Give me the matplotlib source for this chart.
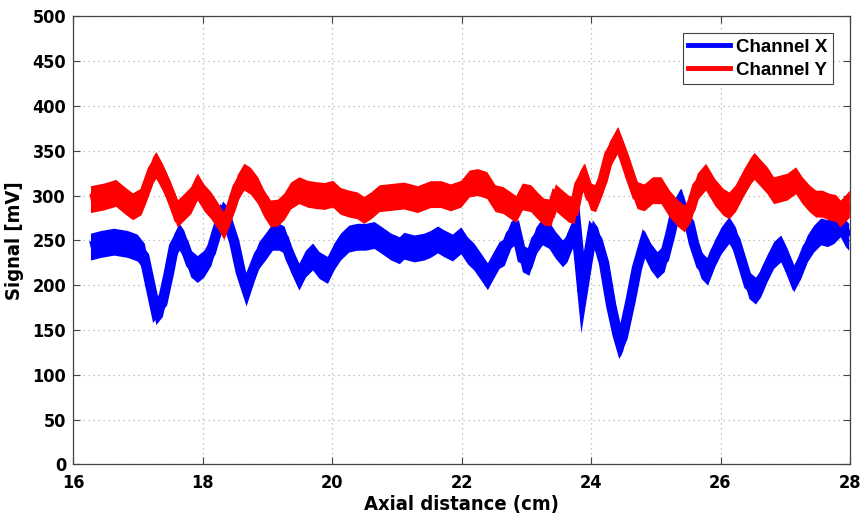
import matplotlib
matplotlib.use("Agg")
import matplotlib.pyplot as plt
from matplotlib.lines import Line2D
from matplotlib import font_manager
import numpy as np

# ---- data ----
pos_x = [16.27, 16.43, 16.63, 16.84, 16.99, 17.10, 17.20, 17.28, 17.38, 17.48,
         17.56, 17.64, 17.71, 17.82, 17.92, 18.02, 18.13, 18.23, 18.31, 18.38,
         18.49, 18.59, 18.68, 18.77, 18.87, 18.97, 19.08, 19.18, 19.26, 19.36,
         19.49, 19.59, 19.70, 19.80, 19.93, 20.03, 20.13, 20.26, 20.39, 20.52,
         20.65, 20.78, 20.91, 21.04, 21.11, 21.27, 21.42, 21.52, 21.63, 21.73,
         21.86, 21.99, 22.09, 22.19, 22.30, 22.40, 22.48, 22.58, 22.66, 22.76,
         22.84, 22.94, 23.04, 23.15, 23.25, 23.35, 23.45, 23.56, 23.63, 23.71,
         23.77, 23.87, 23.94, 24.02, 24.10, 24.20, 24.31, 24.41, 24.45, 24.49,
         24.61, 24.71, 24.82, 24.92, 25.02, 25.13, 25.23, 25.31, 25.38, 25.46,
         25.52, 25.59, 25.70, 25.80, 25.91, 26.01, 26.13, 26.23, 26.34, 26.44,
         26.54, 26.62, 26.72, 26.82, 26.93, 27.03, 27.13, 27.24, 27.34, 27.44,
         27.55, 27.65, 27.75, 27.85, 27.93, 27.98]
channel_x = [243, 246, 248.5, 246, 242, 232, 198, 171, 180, 213,
             243, 254, 246.5, 224, 218, 224, 237, 261.5, 279, 273,
             248.5, 215, 195, 215, 233.5, 243, 254, 254, 251, 230,
             209.5, 224, 232, 222.5, 217, 232, 243, 252, 254, 254,
             256, 249.6, 243, 239, 244, 241, 243, 246, 251, 246.7,
             242, 250, 239, 232, 220.6, 210, 220.6, 233.6, 237, 256,
             261.5, 230, 226, 250, 260, 256, 245, 235.5, 241, 256,
             266, 192, 224, 258, 250, 225, 178, 145, 135, 142,
             182, 219, 246.7, 232, 222.5, 230, 258, 284, 293, 275,
             269, 246.7, 222.5, 215, 235.5, 250, 261.5, 250, 224, 200,
             194, 202, 219, 233.6, 241, 226, 207.6, 222.5, 241, 252,
             260, 258, 261.5, 269, 258, 254]

pos_y = [16.27, 16.48, 16.66, 16.81, 16.92, 17.05, 17.12, 17.23, 17.28, 17.38,
         17.51, 17.61, 17.71, 17.82, 17.92, 18.02, 18.13, 18.23, 18.33, 18.44,
         18.54, 18.64, 18.74, 18.85, 18.95, 19.05, 19.16, 19.26, 19.36, 19.49,
         19.62, 19.75, 19.88, 20.01, 20.13, 20.26, 20.39, 20.49, 20.60, 20.73,
         20.86, 20.98, 21.11, 21.32, 21.52, 21.68, 21.83, 21.99, 22.12, 22.25,
         22.39, 22.52, 22.64, 22.76, 22.84, 22.94, 23.07, 23.17, 23.27, 23.38,
         23.45, 23.56, 23.66, 23.74, 23.82, 23.89, 23.99, 24.07, 24.18, 24.28,
         24.41, 24.51, 24.61, 24.71, 24.82, 24.95, 25.08, 25.21, 25.33, 25.44,
         25.54, 25.64, 25.77, 25.91, 26.04, 26.13, 26.23, 26.36, 26.47, 26.52,
         26.62, 26.72, 26.82, 26.93, 27.03, 27.16, 27.26, 27.37, 27.47, 27.57,
         27.68, 27.78, 27.85, 27.93, 27.99]
channel_y = [296, 299, 303, 294, 288, 293.5, 306, 328.5, 334, 321,
             300, 280, 287, 295, 310, 298, 289, 278, 266, 286,
             309, 321, 316.5, 306, 291, 280, 281, 288, 300, 306,
             302, 300.5, 299.5, 302, 294, 291, 289, 284, 289, 297,
             298, 299, 300, 296, 301.6, 301.6, 298, 302, 313.5, 315,
             311.7, 297, 295, 289, 285, 299, 297, 289, 282, 281,
             298, 291, 285, 284, 311.7, 321, 299, 297, 317, 345,
             362, 343, 321, 300.5, 298, 306, 306, 291, 281, 274.5,
             286, 310, 321, 304, 293, 289, 297, 315, 328.5, 333,
             325, 317, 306, 308, 310, 317, 306, 297, 291, 291,
             287.5, 286, 280, 286, 291]

x_ticks = [16, 18, 20, 22, 24, 26, 28]
y_ticks = [0, 50, 100, 150, 200, 250, 300, 350, 400, 450, 500]
series_names = ["Channel X", "Channel Y"]

# ---- style ----
BAND = 15          # half-thickness of the noisy band (mV)
LW = 7.5
C_X = "#0000ff"
C_Y = "#ff0000"

names = {f.name for f in font_manager.fontManager.ttflist}
if "Liberation Sans Narrow" in names:
    narrow_kw = dict(family=["Liberation Sans Narrow", "DejaVu Sans"])
elif "DejaVu Sans Condensed" in names:
    narrow_kw = dict(family=["DejaVu Sans Condensed", "DejaVu Sans"])
else:
    narrow_kw = dict(family=["DejaVu Sans"], fontstretch="condensed")
wide = ["Liberation Sans", "DejaVu Sans"]

fig = plt.figure(figsize=(8.63, 5.19), dpi=100)
ax = fig.add_axes([73 / 863, 1 - 464.4 / 519, (850 - 73) / 863, (464.4 - 16.3) / 519])

for xs, ys, c in [(pos_x, channel_x, C_X), (pos_y, channel_y, C_Y)]:
    xs = np.asarray(xs)
    ys = np.asarray(ys, dtype=float)
    ax.fill_between(xs, ys - BAND, ys + BAND, color=c, lw=0, zorder=3)
    ax.plot(xs, ys, color=c, lw=LW, solid_joinstyle="miter",
            solid_capstyle="butt", zorder=3)

ax.set_xlim(16, 28)
ax.set_ylim(0, 500)
ax.set_xticks(x_ticks)
ax.set_yticks(y_ticks)
ax.set_xticklabels([str(t) for t in x_ticks], fontweight="bold", fontsize=13, **narrow_kw)
ax.set_yticklabels([str(t) for t in y_ticks], fontweight="bold", fontsize=13, **narrow_kw)
ax.tick_params(axis="x", pad=7)
ax.tick_params(axis="y", pad=5)
ax.tick_params(direction="in", length=5, width=0.8, color="#444444",
               top=True, right=True)
ax.grid(True, color="#b0b0b0", linestyle=(0, (1, 3)), linewidth=0.9)
ax.set_axisbelow(True)
for s in ax.spines.values():
    s.set_color("#444444")
    s.set_linewidth(0.9)

ax.set_xlabel("Axial distance (cm)", fontweight="bold", fontsize=14.5, labelpad=2, **narrow_kw)
ax.set_ylabel("Signal [mV]", fontweight="bold", fontsize=14.5, labelpad=6, **narrow_kw)

handles = [Line2D([], [], color=C_X, lw=3.5), Line2D([], [], color=C_Y, lw=3.5)]
leg = ax.legend(handles, series_names, loc="upper right", fancybox=False,
                framealpha=1, edgecolor="#444444",
                prop={"family": wide, "weight": "bold", "size": 13.5},
                handlelength=2.2, handletextpad=0.35, borderpad=0.3, labelspacing=0.3,
                borderaxespad=0.9)
leg.get_frame().set_linewidth(0.8)

fig.savefig("out.png", dpi=100)
